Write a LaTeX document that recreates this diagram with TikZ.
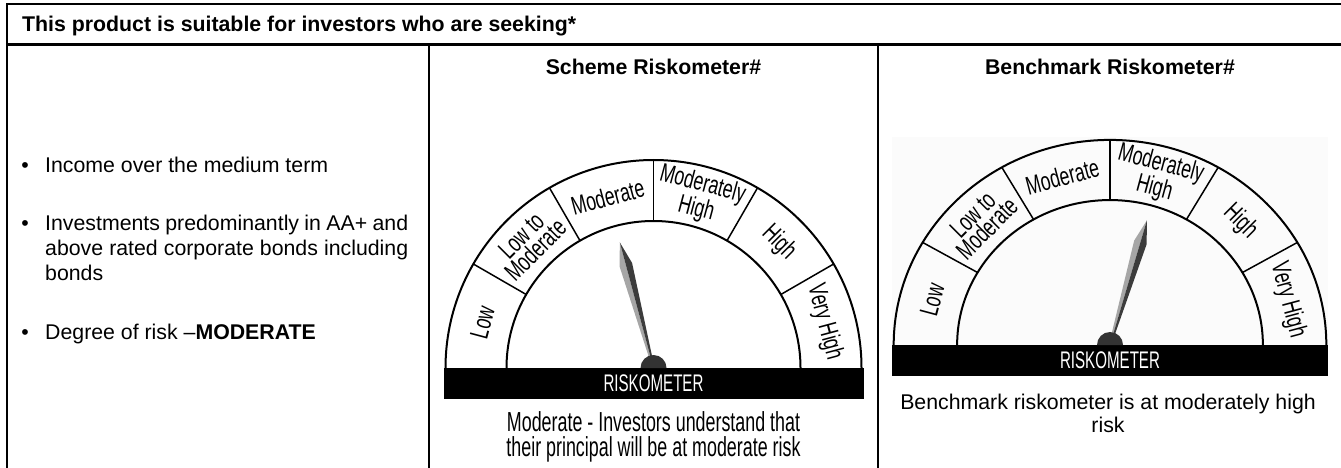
\documentclass[tikz,border=0pt]{standalone}
\usepackage{fontspec}
\usepackage{graphicx}
\setmainfont{Liberation Sans}
\newcommand\cnd[2][0.68]{\scalebox{#1}[1]{#2}}
\definecolor{needlelight}{HTML}{A6A6A6}
\definecolor{needledark}{HTML}{3C3C3C}
\definecolor{hubcol}{HTML}{333333}
\begin{document}
\begin{tikzpicture}[x=1pt,y=1pt,
  rule/.style={line width=2.5pt},
  body/.style={font=\fontsize{21.3}{24.5}\selectfont, inner sep=0pt, anchor=base west},
  headtxt/.style={font=\bfseries\fontsize{21.3}{24.5}\selectfont, inner sep=0pt},
  glabel/.style={font=\fontsize{26}{19}\selectfont, inner sep=0pt, align=center},
  captxt/.style={font=\fontsize{27.5}{25}\selectfont, inner sep=0pt, anchor=base},
  arcline/.style={line width=2pt},
  divline/.style={line width=1.5pt},
  gauge/.pic={
    \fill[black] (-210,0) rectangle (210,-31);
    \node[font=\fontsize{24}{24}\selectfont, text=white, inner sep=0pt] (-rlab) at (0,-15.5) {\cnd[0.63]{RISKOMETER}};
    \draw[arcline] (0:208) arc (0:180:208);
    \draw[arcline] (0:147) arc (0:180:147);
    \foreach \a in {30,60,...,150} \draw[divline] (\a:147) -- (\a:208);
    \node[glabel, rotate=75]  (-l1) at (165:177) {\cnd{Low}};
    \node[glabel, rotate=45]  (-l2) at (135:177) {\cnd{Low to}\\\cnd{Moderate}};
    \node[glabel, rotate=15]  (-l3) at (105:177) {\cnd{Moderate}};
    \node[glabel, rotate=-15] (-l4) at (75:177)  {\cnd{Moderately}\\\cnd{High}};
    \node[glabel, rotate=-45] (-l5) at (45:177)  {\cnd{High}};
    \node[glabel, rotate=-75] (-l6) at (15:177)  {\cnd{Very High}};
  },
  needle/.pic={
    \fill[needlelight] (0,130) -- (-6.5,107) -- (-1.5,8) -- (0,8) -- cycle;
    \fill[needledark] (0,130) -- (6.5,107) -- (1.5,8) -- (0,8) -- cycle;
  }
]
\useasboundingbox (0,0) rectangle (1341,-468);

% table rules
\draw[rule] (1341,-4) -- (7,-4) -- (7,-468);
\draw[rule] (7,-44.5) -- (1341,-44.5);
\draw[rule] (429,-44.5) -- (429,-468);
\draw[rule] (878,-44.5) -- (878,-468);

% header
\node[headtxt, anchor=base west] (head) at (22,-32) {This product is suitable for investors who are seeking*};

% column 1 bullets
\node[body, anchor=base] (b1) at (25,-172) {\textbullet};
\node[body] (t1) at (45,-172) {Income over the medium term};
\node[body, anchor=base] (b2) at (25,-230) {\textbullet};
\node[body] (t2a) at (45,-230) {\makebox[363pt][s]{Investments predominantly in AA+ and}};
\node[body] (t2b) at (45,-255) {\makebox[363pt][s]{above rated corporate bonds including}};
\node[body] (t2c) at (45,-280) {bonds};
\node[body, anchor=base] (b3) at (25,-339) {\textbullet};
\node[body] (t3) at (45,-339) {Degree of risk --\textbf{MODERATE}};

% column titles
\node[headtxt, anchor=base] (st) at (653.5,-75) {Scheme Riskometer\#};
\node[headtxt, anchor=base] (bt) at (1110,-75) {Benchmark Riskometer\#};

% scheme gauge
\pic (sg) at (653.5,-368) {gauge};
\pic[rotate=15] (sn) at (653.5,-368) {needle};
\fill[hubcol] (653.5,-368) ++(13,0) arc (0:180:13) -- cycle;

\node[captxt] (sc1) at (653.5,-431) {\cnd[0.65]{Moderate - Investors understand that}};
\node[captxt] (sc2) at (653.5,-456) {\cnd[0.65]{their principal will be at moderate risk}};

% benchmark gauge
\fill[gray!3] (892,-137) rectangle (1328,-345);
\pic[xscale=1.04, yscale=0.986] (bg) at (1110,-345) {gauge};
\pic[rotate=-16.5] (bn) at (1110,-345) {needle};
\fill[hubcol] (1110,-345) ++(13,0) arc (0:180:13) -- cycle;

\node[body, anchor=base] (bc1) at (1108,-409) {Benchmark riskometer is at moderately high};
\node[body, anchor=base] (bc2) at (1108,-432) {risk};
\end{tikzpicture}
\end{document}
